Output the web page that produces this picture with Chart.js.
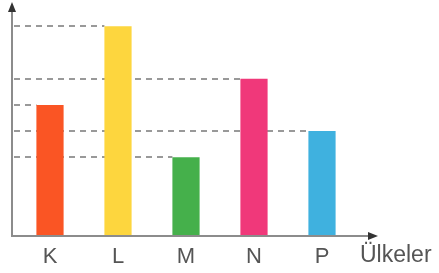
<!DOCTYPE html>
<html>
<head>
<meta charset="utf-8">
<script src="https://cdn.jsdelivr.net/npm/chart.js@4/dist/chart.umd.min.js"></script>
<style>
  html, body { margin: 0; padding: 0; background: #fff; }
  #wrap { width: 439px; height: 273px; }
</style>
</head>
<body>
<div id="wrap"><canvas id="chart" width="439" height="273"></canvas></div>
<script>
// Data
const countries = ["K", "L", "M", "N", "P"];
const values = [5, 8, 3, 6, 4];
const barColors = ["#fa5524", "#fdd63e", "#45b04b", "#f0387a", "#3fb1df"];
const xTitle = "Ülkeler";

// dashed guide lines from the y axis to each bar top, plus the arrow axes
const guides = {
  id: "guides",
  beforeDatasetsDraw(chart) {
    const ctx = chart.ctx;
    const y = chart.scales.y;
    const area = chart.chartArea;
    const axisX = area.left - 4;
    const bars = chart.getDatasetMeta(0).data;
    ctx.save();
    ctx.strokeStyle = "#999";
    ctx.lineWidth = 2;
    ctx.setLineDash([6, 5]);
    values.forEach((v, i) => {
      const py = Math.round(y.getPixelForValue(v));
      ctx.beginPath();
      ctx.moveTo(axisX + 2, py);
      ctx.lineTo(bars[i].x - bars[i].width / 2, py);
      ctx.stroke();
    });
    ctx.restore();
  },
  afterDatasetsDraw(chart) {
    const ctx = chart.ctx;
    const area = chart.chartArea;
    const axisX = area.left - 4;
    const baseY = area.bottom;
    const endX = area.right + 14;
    ctx.save();
    ctx.strokeStyle = "#8c8c8c";
    ctx.lineWidth = 2;
    ctx.beginPath();
    ctx.moveTo(axisX, 10);
    ctx.lineTo(axisX, baseY);
    ctx.lineTo(endX, baseY);
    ctx.stroke();
    // arrow heads
    ctx.fillStyle = "#333";
    ctx.beginPath();
    ctx.moveTo(axisX, 2);
    ctx.lineTo(axisX - 4, 12);
    ctx.lineTo(axisX + 4, 12);
    ctx.closePath();
    ctx.fill();
    ctx.beginPath();
    ctx.moveTo(endX + 8, baseY);
    ctx.lineTo(endX - 2, baseY - 4);
    ctx.lineTo(endX - 2, baseY + 4);
    ctx.closePath();
    ctx.fill();
    // axis name
    ctx.fillStyle = "#555";
    ctx.font = "23px 'Liberation Sans', Arial, sans-serif";
    ctx.textBaseline = "middle";
    ctx.fillText(xTitle, area.right + 4, baseY + 20);
    ctx.restore();
  }
};

new Chart("chart", {
  type: "bar",
  data: {
    labels: countries,
    datasets: [{
      data: values,
      backgroundColor: barColors,
      borderWidth: 0,
      categoryPercentage: 1,
      barPercentage: 0.4,
    }],
  },
  options: {
    responsive: false,
    animation: false,
    devicePixelRatio: 1,
    layout: { padding: { left: 16, right: 83, top: 0, bottom: 0 } },
    plugins: { legend: { display: false }, tooltip: { enabled: false } },
    scales: {
      x: {
        grid: { display: false, drawTicks: false },
        border: { display: false },
        ticks: {
          color: "#555",
          font: { family: "'Liberation Sans', Arial, sans-serif", size: 22 },
          padding: 8,
        },
        afterFit(scale) { scale.height = 37; },
      },
      y: {
        display: false,
        min: 0,
        max: 9,
      },
    },
  },
  plugins: [guides],
});
</script>
</body>
</html>
